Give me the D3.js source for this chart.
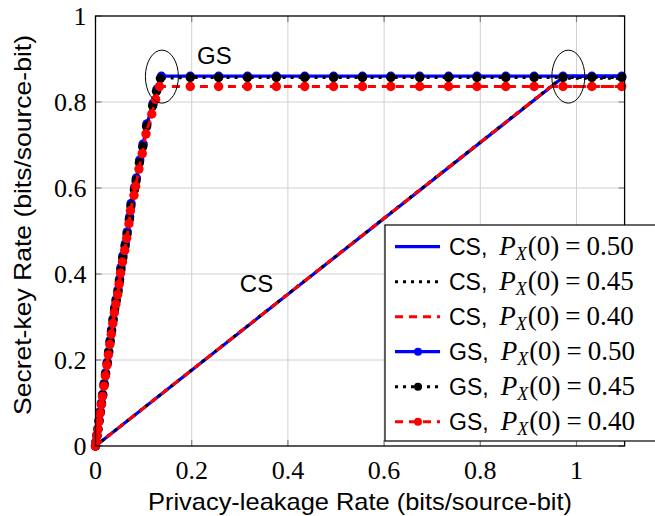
<!DOCTYPE html>
<html>
<head>
<meta charset="utf-8">
<script src="https://cdn.jsdelivr.net/npm/d3@7"></script>
<style>
  body { margin: 0; background: #fff; }
  svg { display: block; }
</style>
</head>
<body>
<div id="chart"></div>
<script>
// ---- data ----
const xTicks = [0, 0.2, 0.4, 0.6, 0.8, 1];
const yTicks = [0, 0.2, 0.4, 0.6, 0.8, 1];
const xTickLabels = ["0", "0.2", "0.4", "0.6", "0.8", "1"];
const yTickLabels = ["0", "0.2", "0.4", "0.6", "0.8", "1"];

// CS (straight line then flat)
const csP50 = [[0, 0], [0.975, 0.860], [1.1, 0.860]];
const csP45 = [[0, 0], [0.968, 0.855], [1.1, 0.855]];
const csP40 = [[0, 0], [0.947, 0.836], [1.1, 0.836]];

// GS rising part
const gsRiseP50 = [[0, 0], [0.0013, 0.01], [0.003, 0.025], [0.005, 0.04], [0.0075, 0.06], [0.010, 0.08],
  [0.0125, 0.10], [0.015, 0.12], [0.018, 0.145], [0.021, 0.17], [0.0245, 0.195], [0.0275, 0.22],
  [0.0305, 0.245], [0.0335, 0.27], [0.0367, 0.296], [0.040, 0.322], [0.043, 0.341], [0.047, 0.363],
  [0.050, 0.388], [0.053, 0.415], [0.057, 0.442], [0.062, 0.470], [0.066, 0.498], [0.071, 0.533],
  [0.074, 0.564], [0.0815, 0.602], [0.085, 0.623], [0.092, 0.665], [0.099, 0.702], [0.107, 0.749],
  [0.120, 0.797], [0.128, 0.830], [0.137, 0.860]];
const gsRiseP45 = [[0, 0], [0.0012, 0.01], [0.003, 0.024], [0.005, 0.039], [0.0074, 0.058], [0.0098, 0.078],
  [0.0123, 0.098], [0.0148, 0.118], [0.0178, 0.142], [0.0208, 0.167], [0.0242, 0.192], [0.0272, 0.217],
  [0.0302, 0.242], [0.0332, 0.266], [0.0364, 0.292], [0.0396, 0.317], [0.0428, 0.337], [0.0466, 0.359],
  [0.0497, 0.383], [0.0527, 0.410], [0.0566, 0.437], [0.0614, 0.465], [0.0655, 0.493], [0.0703, 0.527],
  [0.0735, 0.558], [0.0808, 0.596], [0.0843, 0.617], [0.0912, 0.659], [0.0982, 0.696], [0.1062, 0.743],
  [0.1188, 0.791], [0.1268, 0.825], [0.135, 0.855]];
const gsRiseP40 = [[0, 0], [0.0012, 0.01], [0.0029, 0.024], [0.0048, 0.038], [0.0072, 0.057], [0.0096, 0.076],
  [0.0121, 0.096], [0.0145, 0.115], [0.0175, 0.139], [0.0205, 0.163], [0.0238, 0.188], [0.0268, 0.212],
  [0.0298, 0.236], [0.0328, 0.260], [0.0360, 0.285], [0.0392, 0.310], [0.0423, 0.330], [0.0461, 0.352],
  [0.0491, 0.376], [0.0521, 0.402], [0.0560, 0.428], [0.0607, 0.455], [0.0648, 0.483], [0.0696, 0.517],
  [0.0727, 0.547], [0.0800, 0.583], [0.0834, 0.604], [0.0903, 0.644], [0.0972, 0.680], [0.1050, 0.726],
  [0.1170, 0.772], [0.1250, 0.806], [0.133, 0.836]];

// GS flat part (marker positions along x)
const gsFlatX = [0.197, 0.256, 0.316, 0.376, 0.435, 0.495, 0.555, 0.614, 0.674, 0.734, 0.793,
  0.853, 0.912, 0.972, 1.032, 1.094];
const gsTop = { p50: 0.860, p45: 0.857, p40: 0.836 };

const seriesNames = ["0.50", "0.45", "0.40"];

// ---- layout ----
const W = 655, H = 516;
const plot = { left: 95.5, right: 624.6, top: 16, bottom: 446 };

const x = d3.scaleLinear().domain([0, 1.1]).range([plot.left, plot.right]);
const y = d3.scaleLinear().domain([0, 1]).range([plot.bottom, plot.top]);

const svg = d3.select("#chart")
              .append("svg")
              .attr("width", W)
              .attr("height", H);

const serif = "'Liberation Serif', 'DejaVu Serif', serif";
const sans = "'Liberation Sans', 'DejaVu Sans', sans-serif";

// grid
const grid = svg.append("g");
grid.selectAll("line.gx")
    .data(xTicks.slice(1))
    .enter().append("line")
    .attr("x1", d => x(d)).attr("x2", d => x(d))
    .attr("y1", plot.top).attr("y2", plot.bottom)
    .attr("stroke", "#d0d0d0").attr("stroke-width", 1);
grid.selectAll("line.gy")
    .data(yTicks.slice(1, -1))
    .enter().append("line")
    .attr("y1", d => y(d)).attr("y2", d => y(d))
    .attr("x1", plot.left).attr("x2", plot.right)
    .attr("stroke", "#d0d0d0").attr("stroke-width", 1);

// tick marks (inside, all four sides)
const tk = 6;
const ticks = svg.append("g").attr("stroke", "#808080").attr("stroke-width", 1.2);
xTicks.forEach(d => {
  ticks.append("line").attr("x1", x(d)).attr("x2", x(d)).attr("y1", plot.bottom).attr("y2", plot.bottom - tk);
  ticks.append("line").attr("x1", x(d)).attr("x2", x(d)).attr("y1", plot.top).attr("y2", plot.top + tk);
});
yTicks.forEach(d => {
  ticks.append("line").attr("y1", y(d)).attr("y2", y(d)).attr("x1", plot.left).attr("x2", plot.left + tk);
  ticks.append("line").attr("y1", y(d)).attr("y2", y(d)).attr("x1", plot.right).attr("x2", plot.right - tk);
});

// series
const line = d3.line().x(d => x(d[0])).y(d => y(d[1]));

const styles = [
  { color: "#0000ff", width: 3.2, dash: null },
  { color: "#000000", width: 3, dash: "3,5" },
  { color: "#ff0000", width: 3, dash: "8,6" }
];

const csData = [csP50, csP45, csP40];
const gsData = [
  gsRiseP50.concat(gsFlatX.map(v => [v, gsTop.p50])),
  gsRiseP45.concat(gsFlatX.map(v => [v, gsTop.p45])),
  gsRiseP40.concat(gsFlatX.map(v => [v, gsTop.p40]))
];

const curves = svg.append("g");
csData.forEach((data, i) => {
  curves.append("path")
        .datum(data)
        .attr("d", line)
        .attr("fill", "none")
        .attr("stroke", styles[i].color)
        .attr("stroke-width", styles[i].width)
        .attr("stroke-dasharray", styles[i].dash);
});
gsData.forEach((data, i) => {
  curves.append("path")
        .datum(data)
        .attr("d", line)
        .attr("fill", "none")
        .attr("stroke", styles[i].color)
        .attr("stroke-width", styles[i].width)
        .attr("stroke-dasharray", styles[i].dash);
  curves.selectAll("circle.m" + i)
        .data(data)
        .enter().append("circle")
        .attr("cx", d => x(d[0]))
        .attr("cy", d => y(d[1]))
        .attr("r", 4.7)
        .attr("fill", styles[i].color);
});

// ellipses marking the corner points
const ellipses = [[0.138, 0.859], [0.983, 0.859]];
svg.selectAll("ellipse")
   .data(ellipses)
   .enter().append("ellipse")
   .attr("cx", d => x(d[0]))
   .attr("cy", d => y(d[1]))
   .attr("rx", 16.5)
   .attr("ry", 26.5)
   .attr("fill", "none")
   .attr("stroke", "#000")
   .attr("stroke-width", 1);

// annotations
svg.append("text").attr("x", x(0.211)).attr("y", y(0.888))
   .attr("font-family", sans).attr("font-size", 24).text("GS");
svg.append("text").attr("x", x(0.30)).attr("y", y(0.358))
   .attr("font-family", sans).attr("font-size", 24).text("CS");

// frame
svg.append("rect")
   .attr("x", plot.left).attr("y", plot.top)
   .attr("width", plot.right - plot.left).attr("height", plot.bottom - plot.top)
   .attr("fill", "none").attr("stroke", "#000").attr("stroke-width", 1.3);

// tick labels
svg.selectAll("text.xt")
   .data(xTicks)
   .enter().append("text")
   .attr("x", d => x(d)).attr("y", plot.bottom + 33)
   .attr("text-anchor", "middle")
   .attr("font-family", serif).attr("font-size", 26)
   .text((d, i) => xTickLabels[i]);
svg.selectAll("text.yt")
   .data(yTicks)
   .enter().append("text")
   .attr("x", plot.left - 9).attr("y", d => y(d) + 9)
   .attr("text-anchor", "end")
   .attr("font-family", serif).attr("font-size", 26)
   .text((d, i) => yTickLabels[i]);

// axis labels
svg.append("text")
   .attr("x", 148).attr("y", 510)
   .attr("font-family", sans).attr("font-size", 24)
   .attr("textLength", 424).attr("lengthAdjust", "spacingAndGlyphs")
   .text("Privacy-leakage Rate (bits/source-bit)");
svg.append("text")
   .attr("transform", "translate(31,415) rotate(-90)")
   .attr("font-family", sans).attr("font-size", 24)
   .attr("textLength", 380).attr("lengthAdjust", "spacingAndGlyphs")
   .text("Secret-key Rate (bits/source-bit)");

// legend
const legend = svg.append("g").attr("transform", "translate(385,225)");
legend.append("rect")
      .attr("width", 290).attr("height", 216)
      .attr("fill", "#fff").attr("stroke", "#000").attr("stroke-width", 1.2);

const legendRows = [
  { scheme: "CS", s: 0, mark: false },
  { scheme: "CS", s: 1, mark: false },
  { scheme: "CS", s: 2, mark: false },
  { scheme: "GS", s: 0, mark: true },
  { scheme: "GS", s: 1, mark: true },
  { scheme: "GS", s: 2, mark: true }
];

legendRows.forEach((r, i) => {
  const cy = 21.7 + i * 35;
  const st = styles[r.s];
  legend.append("line")
        .attr("x1", 10).attr("x2", 55).attr("y1", cy).attr("y2", cy)
        .attr("stroke", st.color).attr("stroke-width", st.width)
        .attr("stroke-dasharray", st.dash);
  if (r.mark) {
    legend.append("circle").attr("cx", 33).attr("cy", cy).attr("r", 4).attr("fill", st.color);
  }
  const t = legend.append("text")
                  .attr("x", 64).attr("y", cy + 8.5)
                  .attr("font-size", 27);
  t.append("tspan").attr("font-family", sans).attr("font-size", 23).text(r.scheme + ",");
  t.append("tspan").attr("font-family", serif).attr("font-style", "italic").attr("dx", 12).text("P");
  t.append("tspan").attr("font-family", serif).attr("font-style", "italic")
   .attr("font-size", 18).attr("dy", 4.5).text("X");
  t.append("tspan").attr("font-family", serif).attr("dy", -4.5).attr("dx", 1).text("(0)");
  t.append("tspan").attr("font-family", serif).attr("dx", 6).text("=");
  t.append("tspan").attr("font-family", serif).attr("dx", 6).text(seriesNames[r.s]);
});
</script>
</body>
</html>
